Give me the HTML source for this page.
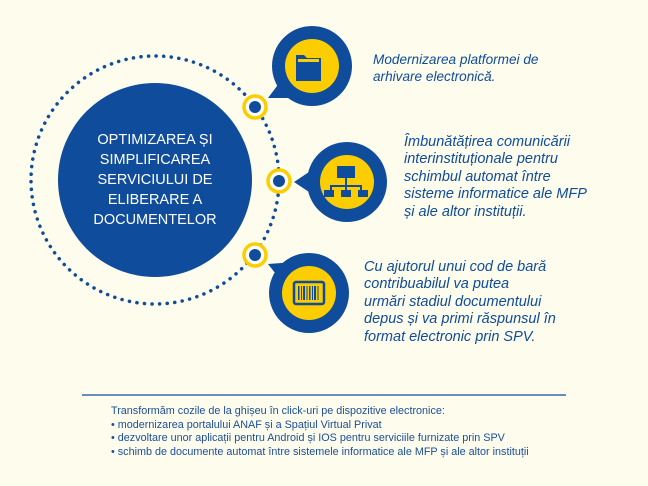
<!DOCTYPE html>
<html><head><meta charset="utf-8"><style>
body{margin:0;width:648px;height:486px;background:#fefcec;overflow:hidden;position:relative;font-family:"Liberation Sans",sans-serif}
.t{position:absolute;color:#0f4c9c;font-style:italic;font-size:14.5px;line-height:17.4px;white-space:nowrap}
.b{position:absolute;left:111px;top:405px;color:#1a4e9a;font-size:10.8px;line-height:13.6px;white-space:nowrap}
</style></head><body>
<svg width="648" height="486" style="position:absolute;left:0;top:0">
<circle cx="155" cy="180" r="124" fill="none" stroke="#0f4c9c" stroke-width="3.5" stroke-dasharray="0.1 7.5" stroke-linecap="round"/>
<circle cx="155" cy="180" r="97" fill="#0f4c9c"/>
<g fill="#0f4c9c">
<circle cx="312" cy="66" r="40"/><polygon points="268,98 283,78 295,98"/>
<circle cx="347" cy="182" r="40"/><polygon points="294,182 315,168 315,196"/>
<circle cx="309" cy="293" r="40"/><polygon points="268,264 295,262 283,283"/>
</g>
<g fill="#fccd00">
<circle cx="312" cy="66" r="27"/><circle cx="347" cy="182" r="27"/><circle cx="309" cy="293" r="27"/>
</g>
<path d="M296 55h8l3 3h14v23h-25z" fill="#0f4c9c"/><path d="M298 59h21v3h-21z" fill="#fccd00"/>
<g fill="#0f4c9c"><rect x="337" y="166" width="18" height="12"/><rect x="345" y="178" width="2" height="8"/><rect x="330" y="185" width="32" height="2"/>
<rect x="330" y="185" width="2" height="5"/><rect x="345" y="185" width="2" height="5"/><rect x="360" y="185" width="2" height="5"/>
<rect x="324" y="190" width="10" height="7"/><rect x="341" y="190" width="10" height="7"/><rect x="358" y="190" width="10" height="7"/></g>
<rect x="294" y="282" width="30" height="22" rx="2" fill="none" stroke="#0f4c9c" stroke-width="2.5"/>
<g fill="#0f4c9c"><rect x="298" y="286" width="1.5" height="14"/><rect x="301" y="286" width="1" height="14"/><rect x="303" y="286" width="2" height="14"/><rect x="306.5" y="286" width="1" height="14"/><rect x="309" y="286" width="1.5" height="14"/><rect x="312" y="286" width="1" height="14"/><rect x="314" y="286" width="2" height="14"/><rect x="317.5" y="286" width="1" height="14"/></g>
<g>
<circle cx="255" cy="107" r="11" fill="#fff" stroke="#fccd00" stroke-width="3.5"/><circle cx="255" cy="107" r="6" fill="#0f4c9c"/>
<circle cx="279" cy="181" r="11" fill="#fff" stroke="#fccd00" stroke-width="3.5"/><circle cx="279" cy="181" r="6" fill="#0f4c9c"/>
<circle cx="255" cy="255" r="11" fill="#fff" stroke="#fccd00" stroke-width="3.5"/><circle cx="255" cy="255" r="6" fill="#0f4c9c"/>
</g>
<line x1="82" y1="395" x2="566" y2="395" stroke="#0f4c9c" stroke-width="1.2"/>
</svg>
<div style="position:absolute;left:58px;top:130px;width:194px;text-align:center;color:#fff;font-size:14.5px;line-height:20px">OPTIMIZAREA ȘI<br>SIMPLIFICAREA<br>SERVICIULUI DE<br>ELIBERARE A<br>DOCUMENTELOR</div>
<div class="t" style="left:373px;top:51px;font-size:13.6px;line-height:17px">Modernizarea platformei de<br>arhivare electronică.</div>
<div class="t" style="left:404px;top:134px">Îmbunătățirea comunicării<br>interinstituționale pentru<br>schimbul automat între<br>sisteme informatice ale MFP<br>și ale altor instituții.</div>
<div class="t" style="left:364px;top:259px">Cu ajutorul unui cod de bară<br>contribuabilul va putea<br>urmări stadiul documentului<br>depus și va primi răspunsul în<br>format electronic prin SPV.</div>
<div class="b">Transformăm cozile de la ghișeu în click-uri pe dispozitive electronice:<br>• modernizarea portalului ANAF și a Spațiul Virtual Privat<br>• dezvoltare unor aplicații pentru Android și IOS pentru serviciile furnizate prin SPV<br>• schimb de documente automat între sistemele informatice ale MFP și ale altor instituții</div>
</body></html>
